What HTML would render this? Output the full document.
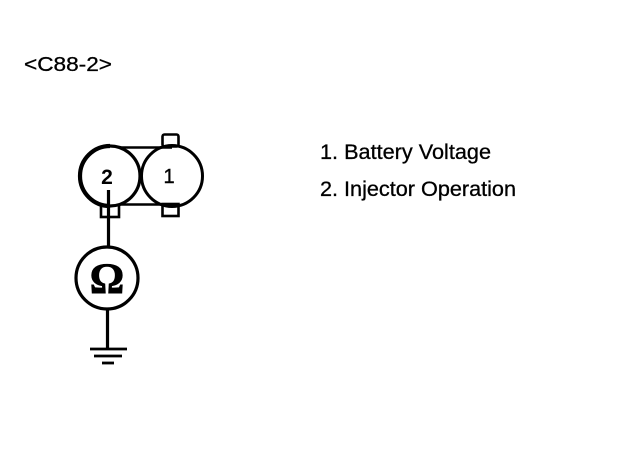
<!DOCTYPE html>
<html>
<head>
<meta charset="utf-8">
<style>
html,body{margin:0;padding:0;background:#fff;}
svg{display:block;}
text{font-family:"Liberation Sans",sans-serif;fill:#000;}
</style>
</head>
<body>
<svg width="640" height="456" viewBox="0 0 640 456" xmlns="http://www.w3.org/2000/svg">
<rect width="640" height="456" fill="#fff"/>
<text x="24" y="71" font-size="20" textLength="88" lengthAdjust="spacingAndGlyphs" stroke="#000" stroke-width="0.3">&lt;C88-2&gt;</text>
<text x="320" y="159" font-size="21" textLength="171" lengthAdjust="spacingAndGlyphs" stroke="#000" stroke-width="0.3">1. Battery Voltage</text>
<text x="320" y="196" font-size="21" textLength="196" lengthAdjust="spacingAndGlyphs" stroke="#000" stroke-width="0.3">2. Injector Operation</text>

<g fill="#fff" stroke="#000" stroke-width="2.600">
<rect x="162.500" y="134.500" width="16" height="12" rx="2"/>
<rect x="162.500" y="204" width="16" height="12"/>
<rect x="101" y="204" width="18" height="13"/>
</g>
<line x1="110" y1="147.500" x2="172" y2="147.500" stroke="#000" stroke-width="2.400"/>
<line x1="110" y1="204.500" x2="172" y2="204.500" stroke="#000" stroke-width="2.400"/>
<circle cx="110" cy="176" r="30" fill="#fff" stroke="#000" stroke-width="3.200"/>
<path d="M110 146 A30 30 0 0 0 110 206" fill="none" stroke="#000" stroke-width="4.200"/>
<circle cx="172" cy="176" r="30.500" fill="none" stroke="#000" stroke-width="3"/>
<text x="107" y="184" font-size="21" font-weight="bold" text-anchor="middle">2</text>
<text x="169" y="183" font-size="20" text-anchor="middle" stroke="#000" stroke-width="0.400">1</text>

<line x1="108.500" y1="190" x2="108.500" y2="248" stroke="#000" stroke-width="3.200"/>
<circle cx="107" cy="278" r="31" fill="#fff" stroke="#000" stroke-width="3.200"/>
<text x="107" y="293" font-size="43" font-weight="bold" text-anchor="middle" stroke="#000" stroke-width="0.800" style="font-family:'Liberation Serif',serif">Ω</text>
<line x1="107.500" y1="309" x2="107.500" y2="349" stroke="#000" stroke-width="3.200"/>
<line x1="90" y1="349" x2="127" y2="349" stroke="#000" stroke-width="2.800"/>
<line x1="94" y1="356" x2="122" y2="356" stroke="#000" stroke-width="2.800"/>
<line x1="102" y1="363" x2="114" y2="363" stroke="#000" stroke-width="2.800"/>
</svg>
</body>
</html>
